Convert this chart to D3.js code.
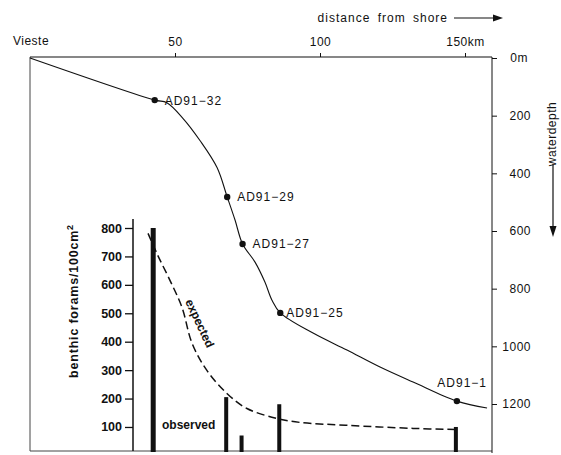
<!DOCTYPE html>
<html>
<head>
<meta charset="utf-8">
<script src="https://cdn.jsdelivr.net/npm/d3@7"></script>
<style>
  body { margin: 0; background: #fff; }
  svg { display: block; font-family: "Liberation Sans", Arial, sans-serif; }
</style>
</head>
<body>
<svg id="chart" width="561" height="455"></svg>
<script>
// bathymetric profile Vieste -> offshore (km, m)
const profileKm    = [0, 43, 47.2, 52.8, 58.6, 64.5, 68, 70.7, 73.3, 77.6, 81, 83.4, 86.3, 97.6, 109.3, 120.7, 132.1, 147.2, 157.6];
const profileDepth = [0, 146, 155, 210, 286, 380, 482, 562, 645, 708, 777, 839, 884, 954, 1013, 1072, 1124, 1190, 1214];

// core stations
const stations     = ["AD91\u221232", "AD91\u221229", "AD91\u221227", "AD91\u221225", "AD91\u22121"];
const stationKm    = [43, 68, 73.3, 86.3, 147.2];
const stationDepth = [146, 482, 645, 884, 1190];

// benthic forams per 100 cm2
const observed = [800, 205, 70, 180, 100];
const expectedKm  = [40.7, 44.1, 48.3, 52.4, 55.9, 61, 67.9, 74.8, 85.2, 93.1, 109.3, 132.1, 147.2];
const expectedVal = [781, 703, 615, 521, 394, 299, 218, 165, 130, 116, 106, 95, 91];

const kmTicks = [50, 100, 150];
const depthTicks = [0, 200, 400, 600, 800, 1000, 1200];
const countTicks = [100, 200, 300, 400, 500, 600, 700, 800];

const svg = d3.select("#chart");
const ink = "#111";

const frameLeft = 30, frameRight = 492, frameTop = 57, frameBottom = 451;

const x = d3.scaleLinear().domain([0, 150]).range([30, 465]);
const yDepth = d3.scaleLinear().domain([0, 1200]).range([58, 404]);
const yCount = d3.scaleLinear().domain([0, 800]).range([455.4, 228]);

/** Frame
------------------------------------------------------------*/
svg.append("line")
  .attr("x1", frameLeft).attr("x2", frameLeft)
  .attr("y1", frameTop).attr("y2", frameBottom)
  .attr("stroke", "#444").attr("stroke-width", 1);

svg.append("line")
  .attr("x1", frameLeft).attr("x2", frameRight)
  .attr("y1", frameBottom).attr("y2", frameBottom)
  .attr("stroke", "#444").attr("stroke-width", 1);

// top distance axis
const topAxis = svg.append("g")
  .attr("transform", `translate(0,${frameTop})`)
  .call(d3.axisTop(x).tickValues(kmTicks).tickSize(4).tickPadding(7)
    .tickFormat(d => d === 150 ? "150km" : d));
topAxis.select(".domain").remove();
topAxis.append("line")
  .attr("x1", frameLeft).attr("x2", frameRight)
  .attr("stroke", ink).attr("stroke-width", 1.2);
topAxis.selectAll(".tick line").attr("stroke", ink);
topAxis.selectAll("text")
  .attr("fill", ink).attr("font-size", 12).attr("font-family", null)
  .attr("letter-spacing", 0.5);

svg.append("text")
  .attr("x", 31).attr("y", 45)
  .attr("text-anchor", "middle")
  .attr("font-size", 12).attr("letter-spacing", 0.5).attr("fill", ink)
  .text("Vieste");

svg.append("text")
  .attr("x", 448).attr("y", 22)
  .attr("text-anchor", "end")
  .attr("font-size", 12).attr("letter-spacing", 1).attr("word-spacing", 3)
  .attr("fill", ink)
  .text("distance from shore");

svg.append("line")
  .attr("x1", 454).attr("x2", 494).attr("y1", 18).attr("y2", 18)
  .attr("stroke", ink).attr("stroke-width", 1.2);
svg.append("path")
  .attr("d", "M493,14.5 L503,18 L493,21.5 Z")
  .attr("fill", ink);

// right depth axis
const rightAxis = svg.append("g")
  .attr("transform", `translate(${frameRight},0)`)
  .call(d3.axisRight(yDepth).tickValues(depthTicks).tickSize(5).tickPadding(0)
    .tickFormat(d => d === 0 ? "0m" : d));
rightAxis.select(".domain").remove();
rightAxis.append("line")
  .attr("y1", frameTop).attr("y2", frameBottom + 2)
  .attr("stroke", ink).attr("stroke-width", 1);
rightAxis.selectAll(".tick line").attr("stroke", ink);
rightAxis.selectAll("text")
  .attr("fill", ink).attr("font-size", 12).attr("font-family", null)
  .attr("letter-spacing", 0.5)
  .attr("text-anchor", "end")
  .attr("x", d => d === 0 ? 36 : 39);

svg.append("text")
  .attr("transform", "translate(556,134) rotate(-90)")
  .attr("text-anchor", "middle")
  .attr("font-size", 12).attr("letter-spacing", 0.5).attr("fill", ink)
  .text("waterdepth");

svg.append("line")
  .attr("x1", 553).attr("x2", 553).attr("y1", 164).attr("y2", 227)
  .attr("stroke", ink).attr("stroke-width", 1.2);
svg.append("path")
  .attr("d", "M549.5,226 L553,237 L556.5,226 Z")
  .attr("fill", ink);

/** Bathymetric profile
------------------------------------------------------------*/
const profile = profileKm.map((km, i) => ({ km: km, depth: profileDepth[i] }));

svg.append("path")
  .datum(profile)
  .attr("fill", "none")
  .attr("stroke", ink)
  .attr("stroke-width", 1.1)
  .attr("d", d3.line()
    .x(d => x(d.km))
    .y(d => yDepth(d.depth))
    .curve(d3.curveCatmullRom.alpha(0.5)));

const st = stations.map((name, i) => ({ name: name, km: stationKm[i], depth: stationDepth[i] }));

svg.append("g")
  .selectAll("circle")
  .data(st)
  .enter().append("circle")
  .attr("cx", d => x(d.km))
  .attr("cy", d => yDepth(d.depth))
  .attr("r", 3.2)
  .attr("fill", ink);

svg.append("g")
  .selectAll("text")
  .data(st)
  .enter().append("text")
  .attr("x", (d, i) => i === 4 ? frameRight - 5 : x(d.km) + (i === 3 ? 6 : 10))
  .attr("y", (d, i) => i === 4 ? yDepth(d.depth) - 14 : yDepth(d.depth) + 4.5)
  .attr("text-anchor", (d, i) => i === 4 ? "end" : "start")
  .attr("font-size", 12).attr("letter-spacing", 1).attr("fill", ink)
  .text(d => d.name);

/** Inset: benthic forams
------------------------------------------------------------*/
const countAxis = svg.append("g")
  .attr("transform", "translate(133,0)")
  .call(d3.axisLeft(yCount).tickValues(countTicks).tickSize(8).tickPadding(3));
countAxis.select(".domain").remove();
countAxis.append("line")
  .attr("y1", 219).attr("y2", frameBottom)
  .attr("stroke", ink).attr("stroke-width", 1.5);
countAxis.selectAll(".tick line").attr("stroke", ink).attr("stroke-width", 1.3);
countAxis.selectAll("text")
  .attr("fill", ink).attr("font-size", 12.5).attr("font-weight", "bold")
  .attr("font-family", null);

svg.append("text")
  .attr("transform", "translate(78,301) rotate(-90)")
  .attr("text-anchor", "middle")
  .attr("font-size", 12.5).attr("font-weight", "bold").attr("letter-spacing", 0.8)
  .attr("fill", ink)
  .text("benthic forams/100cm")
  .append("tspan")
  .attr("dy", -5).attr("font-size", 9)
  .text("2");

const bars = observed.map((v, i) => ({ km: stationKm[i], value: v }));

svg.append("g")
  .selectAll("rect")
  .data(bars)
  .enter().append("rect")
  .attr("x", (d, i) => x(d.km) - (i === 0 ? 4 : 3))
  .attr("y", d => yCount(d.value))
  .attr("width", (d, i) => i === 0 ? 5 : 4)
  .attr("height", d => frameBottom + 1 - yCount(d.value))
  .attr("fill", ink);

const expected = expectedKm.map((km, i) => ({ km: km, value: expectedVal[i] }));

svg.append("path")
  .datum(expected)
  .attr("fill", "none")
  .attr("stroke", ink)
  .attr("stroke-width", 1.5)
  .attr("stroke-dasharray", "8,4")
  .attr("d", d3.line()
    .x(d => x(d.km))
    .y(d => yCount(d.value))
    .curve(d3.curveCatmullRom.alpha(0.5)));

svg.append("text")
  .attr("transform", "translate(196,325) rotate(65)")
  .attr("text-anchor", "middle")
  .attr("font-size", 12).attr("font-weight", "bold").attr("fill", ink)
  .text("expected");

svg.append("text")
  .attr("x", 162).attr("y", 429)
  .attr("font-size", 12).attr("font-weight", "bold").attr("fill", ink)
  .text("observed");
</script>
</body>
</html>
